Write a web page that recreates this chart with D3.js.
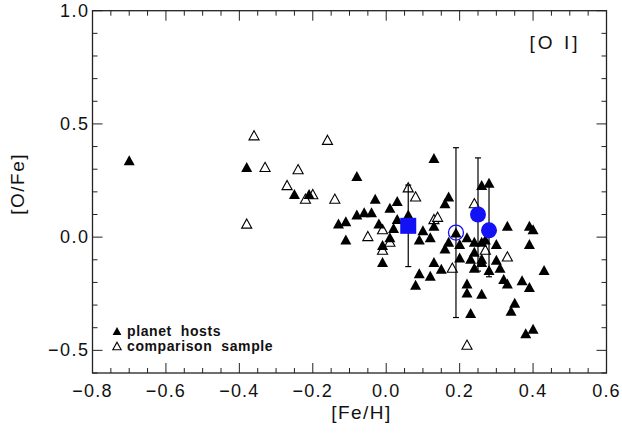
<!DOCTYPE html>
<html lang="en">
<head>
<meta charset="utf-8">
<title>[O/Fe] vs [Fe/H]</title>
<script src="https://d3js.org/d3.v7.min.js"></script>
<style>
  body { margin: 0; background: #fff; }
  text { font-family: "Liberation Sans", Arial, sans-serif; fill: #111; white-space: pre; }
</style>
</head>
<body>
<div id="chart"></div>
<script>
// planet hosts (filled triangles)
var hostFeH = [-0.70, -0.38, -0.25, -0.21, 0.13, -0.08, -0.03, 0.03, 0.01, 0.16,
               -0.08, -0.06, -0.04, -0.13, -0.11, 0.03, 0.13, -0.02, 0.02, 0.06,
               0.10, 0.12, 0.09, 0.01, -0.11, -0.01, -0.01, 0.16, 0.13, 0.15,
               0.09, 0.12, 0.08, 0.26, 0.28, 0.17, 0.33, 0.39, 0.40, 0.19,
               0.17, 0.20, 0.22, 0.24, 0.26, 0.27, 0.30, 0.24, 0.39, 0.20,
               0.23, 0.26, 0.30, 0.24, 0.26, 0.28, 0.31, 0.32, 0.33, 0.37,
               0.39, 0.43, 0.22, 0.22, 0.26, 0.23, 0.35, 0.34, 0.38, 0.40];
var hostOFe = [0.34, 0.31, 0.19, 0.19, 0.35, 0.27, 0.17, 0.16, 0.13, 0.15,
               0.10, 0.11, 0.11, 0.06, 0.07, 0.08, 0.05, 0.06, 0.04, 0.10,
               0.03, 0.00, -0.01, 0.00, -0.01, -0.035, -0.11, -0.05, -0.11, -0.14,
               -0.16, -0.17, -0.21, 0.23, 0.24, 0.18, 0.05, 0.05, 0.035, 0.02,
               -0.02, -0.03, 0.00, -0.02, -0.02, -0.01, -0.03, -0.065, -0.03, -0.09,
               -0.095, -0.095, -0.10, -0.135, -0.11, -0.145, -0.135, -0.185, -0.205, -0.19,
               -0.22, -0.145, -0.205, -0.245, -0.25, -0.335, -0.29, -0.325, -0.425, -0.405];

// comparison sample (open triangles)
var compFeH = [-0.36, -0.33, -0.27, -0.38, -0.16, -0.24, -0.20, -0.22, -0.14, 0.06,
               0.08, 0.13, 0.14, -0.01, 0.01, -0.05, -0.01, 0.24, 0.27, 0.33,
               0.18, 0.22];
var compOFe = [0.45, 0.31, 0.23, 0.06, 0.43, 0.30, 0.19, 0.17, 0.17, 0.22,
               0.18, 0.08, 0.09, 0.035, -0.02, 0.005, -0.055, 0.15, -0.055, -0.085,
               -0.135, -0.475];

// blue averaged points: square, open circle, two filled circles
var blueFeH = [0.06, 0.19, 0.25, 0.28];
var blueOFe = [0.05, 0.02, 0.10, 0.03];
var blueErr = [0.18, 0.375, 0.25, 0.205];
var blueKind = ["square", "open", "filled", "filled"];

var xTicks = [-0.8, -0.6, -0.4, -0.2, 0.0, 0.2, 0.4, 0.6];
var yTicks = [-0.5, 0.0, 0.5, 1.0];

var W = 622, H = 434;
var pL = 92.5, pR = 606.5, pT = 10.7, pB = 373;

var svg = d3.select("#chart").append("svg")
    .attr("width", W).attr("height", H);

var x = d3.scaleLinear().domain([-0.8, 0.6]).range([pL, pR]);
var y = d3.scaleLinear().domain([-0.6, 1.0]).range([pB, pT]);

var fmt = d3.format(".1f");
var axisColor = "#222";

// ticks, all pointing inward on the four sides
function tickGroup(vals, len, side) {
  var horiz = side == "b" || side == "t";
  svg.append("g").selectAll("line").data(vals).enter().append("line")
    .attr("x1", function(d) { return horiz ? x(d) : (side == "l" ? pL : pR); })
    .attr("x2", function(d) { return horiz ? x(d) : (side == "l" ? pL + len : pR - len); })
    .attr("y1", function(d) { return !horiz ? y(d) : (side == "b" ? pB : pT); })
    .attr("y2", function(d) { return !horiz ? y(d) : (side == "b" ? pB - len : pT + len); })
    .attr("stroke", axisColor).attr("stroke-width", 1);
}
var xMinor = d3.range(-0.75, 0.6, 0.05).filter(function(v) { return Math.abs(Math.round(v * 5) - v * 5) > 1e-6; });
var yMinor = d3.range(-0.6, 1.0, 0.1).filter(function(v) { return Math.abs(Math.round(v * 2) - v * 2) > 1e-6; });
["b", "t"].forEach(function(s) { tickGroup(xTicks, 10, s); tickGroup(xMinor, 5, s); });
["l", "r"].forEach(function(s) { tickGroup(yTicks, 10, s); tickGroup(yMinor, 5, s); });

svg.append("rect")
    .attr("x", pL).attr("y", pT)
    .attr("width", pR - pL).attr("height", pB - pT)
    .attr("fill", "none").attr("stroke", axisColor).attr("stroke-width", 1.3);

// tick labels
svg.append("g").selectAll("text").data(xTicks).enter().append("text")
    .attr("x", function(d) { return x(d); })
    .attr("y", pB + 24)
    .attr("text-anchor", "middle")
    .attr("font-size", 18).attr("letter-spacing", 1.2)
    .text(function(d) { return fmt(d); });

svg.append("g").selectAll("text").data(yTicks).enter().append("text")
    .attr("x", pL - 3)
    .attr("y", function(d) { return y(d) + 6; })
    .attr("text-anchor", "end")
    .attr("font-size", 18).attr("letter-spacing", 1.5)
    .text(function(d) { return fmt(d); });

// axis titles
svg.append("text")
    .attr("x", (pL + pR) / 2 + 12).attr("y", pB + 46)
    .attr("text-anchor", "middle").attr("font-size", 19).attr("letter-spacing", 1.5)
    .text("[Fe/H]");
svg.append("text")
    .attr("transform", "translate(24," + ((pT + pB) / 2 - 8) + ") rotate(-90)")
    .attr("text-anchor", "middle").attr("font-size", 19).attr("letter-spacing", 1.5)
    .text("[O/Fe]");

svg.append("text")
    .attr("x", 555).attr("y", 49)
    .attr("text-anchor", "middle").attr("font-size", 19).attr("letter-spacing", 3)
    .text("[O I]");

// triangle marker path
function tri(s) {
  return "M0," + (-s) + "L" + (s * 1.1) + "," + s + "L" + (-s * 1.1) + "," + s + "Z";
}

var hosts = hostFeH.map(function(v, i) { return {fe: v, o: hostOFe[i]}; });
var comps = compFeH.map(function(v, i) { return {fe: v, o: compOFe[i]}; });
var blues = blueFeH.map(function(v, i) { return {fe: v, o: blueOFe[i], e: blueErr[i], k: blueKind[i]}; });

svg.append("g").selectAll("path").data(comps).enter().append("path")
    .attr("d", tri(4.6))
    .attr("transform", function(d) { return "translate(" + x(d.fe) + "," + y(d.o) + ")"; })
    .attr("fill", "#fff").attr("stroke", "#000").attr("stroke-width", 1.1);

// error bars for blue points
var eb = svg.append("g").selectAll("g").data(blues).enter().append("g");
eb.append("line")
    .attr("x1", function(d) { return x(d.fe); }).attr("x2", function(d) { return x(d.fe); })
    .attr("y1", function(d) { return y(d.o + d.e); }).attr("y2", function(d) { return y(d.o - d.e); })
    .attr("stroke", "#000").attr("stroke-width", 1.2);
eb.selectAll("line.cap").data(function(d) { return [d.o + d.e, d.o - d.e].map(function(v) { return {fe: d.fe, v: v}; }); })
  .enter().append("line").attr("class", "cap")
    .attr("x1", function(d) { return x(d.fe) - 3; }).attr("x2", function(d) { return x(d.fe) + 3; })
    .attr("y1", function(d) { return y(d.v); }).attr("y2", function(d) { return y(d.v); })
    .attr("stroke", "#000").attr("stroke-width", 1.2);

svg.append("g").selectAll("path").data(hosts).enter().append("path")
    .attr("d", tri(5))
    .attr("transform", function(d) { return "translate(" + x(d.fe) + "," + y(d.o) + ")"; })
    .attr("fill", "#000");

// blue markers
var blue = "#1212f5";
blues.forEach(function(d) {
  if (d.k == "square") {
    svg.append("rect")
      .attr("x", x(d.fe) - 8).attr("y", y(d.o) - 8)
      .attr("width", 16).attr("height", 16)
      .attr("fill", blue);
  } else {
    svg.append("circle")
      .attr("cx", x(d.fe)).attr("cy", y(d.o))
      .attr("r", d.k == "open" ? 7.5 : 8)
      .attr("fill", d.k == "open" ? "none" : blue)
      .attr("stroke", blue).attr("stroke-width", d.k == "open" ? 1.3 : 0);
  }
});

// legend
var lg = svg.append("g").attr("transform", "translate(117,0)");
lg.append("path").attr("d", tri(4)).attr("transform", "translate(0,331)").attr("fill", "#000");
lg.append("path").attr("d", tri(3.8)).attr("transform", "translate(0,346)")
    .attr("fill", "none").attr("stroke", "#000").attr("stroke-width", 1.1);
lg.append("text").attr("x", 10).attr("y", 336).attr("font-size", 14).attr("font-weight", "bold")
    .attr("letter-spacing", 0.6).text("planet  hosts");
lg.append("text").attr("x", 10).attr("y", 351).attr("font-size", 14).attr("font-weight", "bold")
    .attr("letter-spacing", 0.6).text("comparison  sample");
</script>
</body>
</html>
